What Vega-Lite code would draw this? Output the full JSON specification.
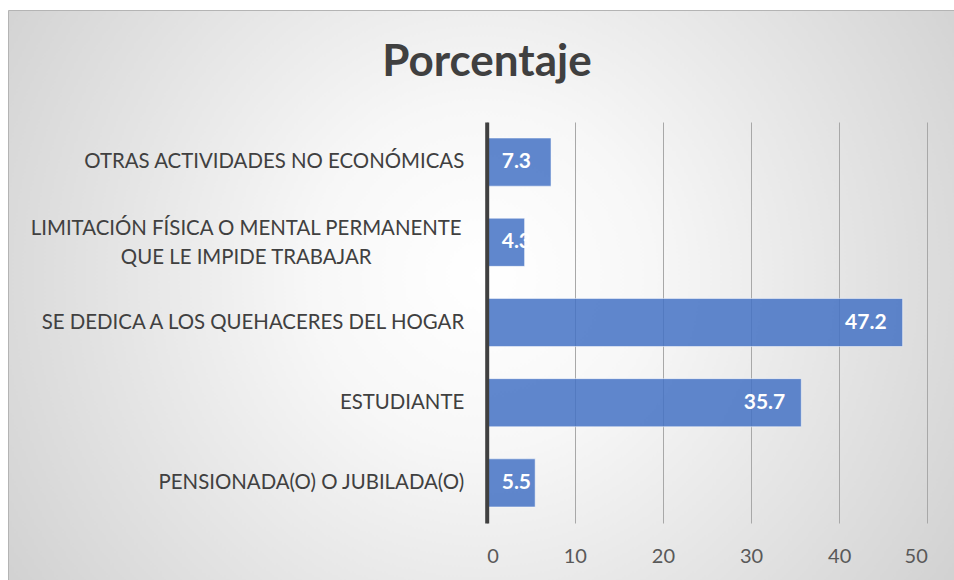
{
  "$schema": "https://vega.github.io/schema/vega-lite/v6.json",
  "width": 946,
  "height": 625,
  "autosize": {"type": "none"},
  "padding": {"left": 8, "top": 10, "right": 0, "bottom": -55},
  "background": "#ffffff",
  "title": {
    "text": "Porcentaje",
    "font": "Lato",
    "fontSize": 44,
    "fontWeight": "bold",
    "color": "#404040",
    "anchor": "middle",
    "baseline": "alphabetic",
    "offset": -110,
    "dx": 6
  },
  "config": {
    "view": {
      "stroke": "#b4b4b4",
      "strokeWidth": 1,
      "fill": {
        "gradient": "radial",
        "x1": 0.5, "y1": 0.45, "r1": 0,
        "x2": 0.5, "y2": 0.45, "r2": 0.72,
        "stops": [
          {"offset": 0, "color": "#ffffff"},
          {"offset": 0.25, "color": "#f7f7f7"},
          {"offset": 1, "color": "#c6c6c6"}
        ]
      }
    }
  },
  "data": {
    "values": [
      {"cat": "OTRAS ACTIVIDADES NO ECONÓMICAS", "v": 7.3},
      {"cat": "LIMITACIÓN FÍSICA O MENTAL PERMANENTE QUE LE IMPIDE TRABAJAR", "v": 4.3},
      {"cat": "SE DEDICA A LOS QUEHACERES DEL HOGAR", "v": 47.2},
      {"cat": "ESTUDIANTE", "v": 35.7},
      {"cat": "PENSIONADA(O) O JUBILADA(O)", "v": 5.5}
    ]
  },
  "encoding": {
    "y": {
      "field": "cat",
      "type": "nominal",
      "sort": null,
      "scale": {"range": [112, 513], "paddingInner": 0.4, "paddingOuter": 0.2},
      "axis": {
        "title": null,
        "orient": "left",
        "offset": -478.7,
        "domain": true,
        "domainColor": "#404040",
        "domainWidth": 4,
        "ticks": false,
        "tickSize": 0,
        "grid": false,
        "labelFont": "Lato",
        "labelFontSize": 20.4,
        "labelColor": "#404040",
        "labelPadding": {"condition": {"test": "indexof(datum.label, ' QUE ') > 0", "value": 241}, "value": 23},
        "labelAlign": {"condition": {"test": "indexof(datum.label, ' QUE ') > 0", "value": "center"}, "value": "right"},
        "labelLimit": 600,
        "labelLineHeight": 29,
        "labelOffset": {"condition": {"test": "indexof(datum.label, ' QUE ') > 0", "value": -13}, "value": 0},
        "labelExpr": "indexof(datum.label, ' QUE ') > 0 ? [substring(datum.label, 0, indexof(datum.label, ' QUE ')), substring(datum.label, indexof(datum.label, ' QUE ') + 1)] : datum.label",
        "zindex": 1
      }
    },
    "x": {
      "field": "v",
      "type": "quantitative",
      "scale": {"domain": [0, 50], "range": [478.7, 919.3], "nice": false, "zero": true},
      "axis": {
        "title": null,
        "orient": "bottom",
        "values": [0, 10, 20, 30, 40, 50],
        "grid": true,
        "gridColor": "#a8a8a8",
        "gridWidth": 1,
        "domain": false,
        "ticks": false,
        "labelFont": "Lato",
        "labelFontSize": 20,
        "labelColor": "#595959",
        "labelPadding": -89
      }
    }
  },
  "layer": [
    {
      "mark": {
        "type": "bar",
        "fill": "#4472C4",
        "fillOpacity": 0.85,
        "stroke": "#ffffff",
        "strokeOpacity": 0.5,
        "strokeWidth": 1
      }
    },
    {
      "transform": [{"filter": "datum.v >= 10"}],
      "mark": {
        "type": "text",
        "align": "right",
        "baseline": "middle",
        "dx": -16,
        "font": "Lato",
        "fontSize": 21,
        "fontWeight": "bold",
        "color": "#ffffff"
      },
      "encoding": {
        "text": {"field": "v", "type": "quantitative", "format": ".1f"}
      }
    },
    {
      "transform": [{"filter": "datum.v < 10"}],
      "mark": {
        "type": "text",
        "align": "left",
        "baseline": "middle",
        "dx": 15,
        "font": "Lato",
        "fontSize": 21,
        "fontWeight": "bold",
        "color": "#ffffff"
      },
      "encoding": {
        "x": {"datum": 0, "type": "quantitative"},
        "text": {"field": "v", "type": "quantitative", "format": ".1f"}
      }
    }
  ]
}
